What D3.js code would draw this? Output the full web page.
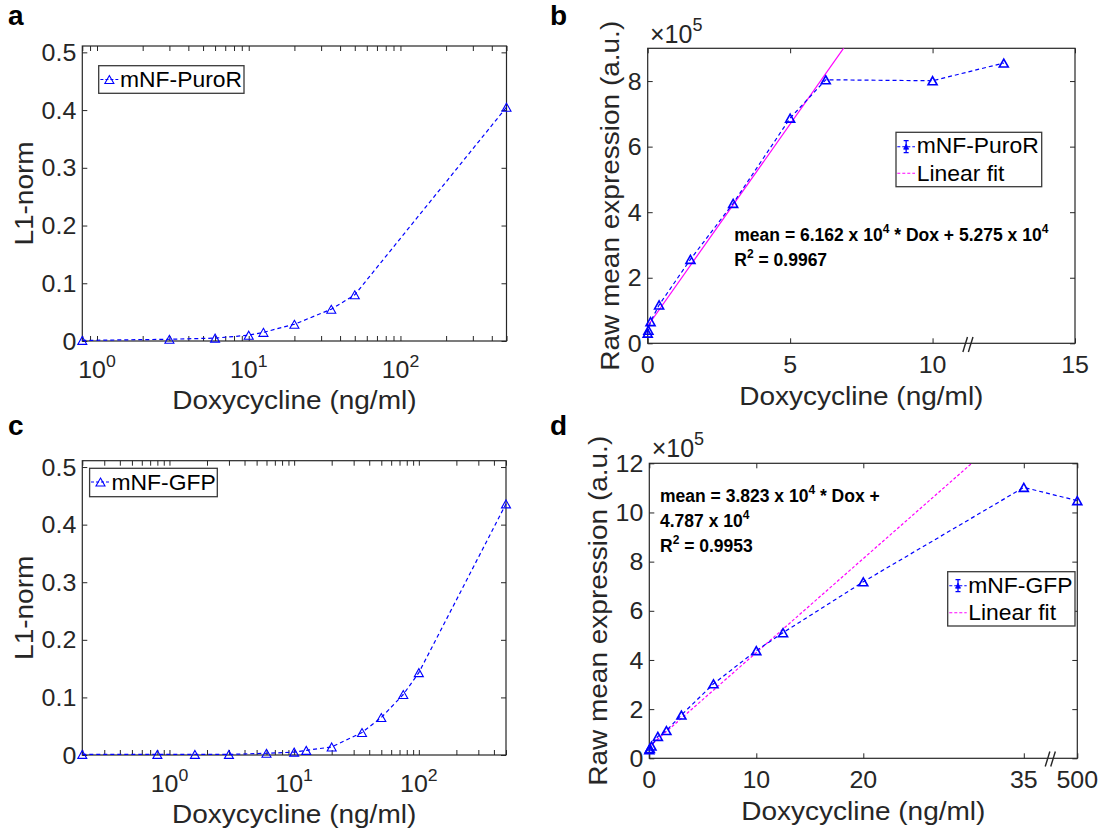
<!DOCTYPE html>
<html>
<head>
<meta charset="utf-8">
<script src="https://cdn.jsdelivr.net/npm/d3@7"></script>
<style>
  html, body { margin: 0; padding: 0; background: #fff; }
  svg { display: block; }
  text { font-family: "Liberation Sans", Arial, Helvetica, sans-serif; }
</style>
</head>
<body>
<svg id="fig" width="1102" height="836"></svg>
<script>
// ---------- data ----------
// a: mNF-PuroR, L1-norm against doxycycline (ng/ml)
const puroL1Dose = [0.8, 3, 6, 10, 12.5, 20, 35, 50, 500];
const puroL1 = [0.001, 0.003, 0.005, 0.010, 0.015, 0.029, 0.055, 0.080, 0.405];

// c: mNF-GFP, L1-norm against doxycycline (ng/ml)
const gfpL1Dose = [0.2, 0.8, 1.6, 3, 6, 10, 12.5, 20, 35, 50, 75, 100, 500];
const gfpL1 = [0.001, 0.001, 0.001, 0.001, 0.003, 0.005, 0.008, 0.014, 0.039, 0.065, 0.105, 0.143, 0.436];

// b: mNF-PuroR raw mean expression (a.u.)
const puroMeanDose = [0, 0.05, 0.2, 0.8, 3, 6, 10, 12.5, 20, 500];
const puroMean = [0.31e5, 0.40e5, 0.66e5, 1.17e5, 2.56e5, 4.27e5, 6.87e5, 8.04e5, 8.01e5, 8.55e5];
const puroFitSlope = 6.162e4;
const puroFitIntercept = 5.275e4;
const puroFitR2 = 0.9967;

// d: mNF-GFP raw mean expression (a.u.)
const gfpMeanDose = [0, 0.05, 0.2, 0.8, 1.6, 3, 6, 10, 12.5, 20, 35, 500];
const gfpMean = [0.35e5, 0.40e5, 0.50e5, 0.89e5, 1.13e5, 1.76e5, 3.03e5, 4.38e5, 5.11e5, 7.18e5, 11.02e5, 10.48e5];
const gfpFitSlope = 3.823e4;
const gfpFitIntercept = 4.787e4;
const gfpFitR2 = 0.9953;

// tick values and labels
const l1Ticks = [0, 0.1, 0.2, 0.3, 0.4, 0.5];
const logMajorTicks = [1, 10, 100];
const puroMeanXTicks = [0, 5, 10, 15];
const puroMeanXLabels = ["0", "5", "10", "15"];
const puroMeanYTicks = [0, 2e5, 4e5, 6e5, 8e5];
const gfpMeanXTicks = [0, 10, 20, 35, 40];
const gfpMeanXLabels = ["0", "10", "20", "35", "500"];
const gfpMeanYTicks = [0, 2e5, 4e5, 6e5, 8e5, 10e5, 12e5];

// ---------- helpers ----------
const INK = "#262626";
const BLUE = "#0000ff";
const MAGENTA = "#ff00ff";
const TICK_FONT = 24;
const svg = d3.select("#fig");

function addText(parent, x, y, str, o = {}) {
  const t = parent.append("text")
    .attr("transform", `translate(${x},${y})${o.rotate ? " rotate(-90)" : ""} scale(${o.sx || 1},1)`)
    .attr("font-size", o.size || 22)
    .attr("text-anchor", o.anchor || "start")
    .attr("fill", o.fill || INK);
  if (o.weight) t.attr("font-weight", o.weight);
  if (str != null) t.text(str);
  return t;
}

// box + inward ticks on all four sides
function drawFrame(g, x, y, xTickValues, yTickValues) {
  const [xl, xr] = x.range();
  const [yb, yt] = y.range();
  const tick = 5;
  const styleAxis = sel => {
    sel.select(".domain").remove();
    sel.selectAll(".tick line").attr("stroke", INK).attr("stroke-width", 1);
    sel.selectAll(".tick text").remove();
  };
  g.append("g").attr("transform", `translate(0,${yb})`)
    .call(d3.axisBottom(x).tickValues(xTickValues).tickSizeInner(-tick).tickSizeOuter(0)).call(styleAxis);
  g.append("g").attr("transform", `translate(0,${yt})`)
    .call(d3.axisTop(x).tickValues(xTickValues).tickSizeInner(-tick).tickSizeOuter(0)).call(styleAxis);
  g.append("g").attr("transform", `translate(${xl},0)`)
    .call(d3.axisLeft(y).tickValues(yTickValues).tickSizeInner(-tick).tickSizeOuter(0)).call(styleAxis);
  g.append("g").attr("transform", `translate(${xr},0)`)
    .call(d3.axisRight(y).tickValues(yTickValues).tickSizeInner(-tick).tickSizeOuter(0)).call(styleAxis);
  g.append("rect")
    .attr("x", xl).attr("y", yt).attr("width", xr - xl).attr("height", yb - yt)
    .attr("fill", "none").attr("stroke", INK).attr("stroke-width", 1.2);
}

function yTickLabels(g, x, y, values, fmt) {
  const xl = x.range()[0];
  values.forEach(v => addText(g, xl - 6, y(v) + 0.36 * TICK_FONT, fmt(v),
    { anchor: "end", size: TICK_FONT, sx: 1.04 }));
}

function linearXTickLabels(g, x, y, values, labels) {
  const yb = y.range()[0];
  values.forEach((v, i) => addText(g, x(v), yb + 30, labels[i],
    { anchor: "middle", size: TICK_FONT, sx: 1.04 }));
}

function logXTickLabels(g, x, y, values) {
  const yb = y.range()[0];
  values.forEach(v => {
    const t = addText(g, x(v), yb + 37, null, { anchor: "middle", size: TICK_FONT, sx: 1.04 });
    t.append("tspan").text("10");
    t.append("tspan").attr("font-size", 17).attr("dy", -11).text(String(Math.round(Math.log10(v))));
  });
}

function triangle(w, h) {
  return `M0,${-h / 2}L${w / 2},${h / 2}L${-w / 2},${h / 2}Z`;
}

function drawSeries(g, x, y, xs, ys, pos, markerStroke) {
  const pts = xs.map((d, i) => [x(pos(d)), y(ys[i])]);
  g.append("path")
    .attr("d", d3.line()(pts))
    .attr("fill", "none").attr("stroke", BLUE).attr("stroke-width", 1.2)
    .attr("stroke-dasharray", "4,3");
  g.selectAll(null).data(pts).join("path")
    .attr("transform", d => `translate(${d[0]},${d[1]})`)
    .attr("d", triangle(9, 8))
    .attr("fill", "none").attr("stroke", BLUE).attr("stroke-width", markerStroke);
}

function legendBox(g, x0, y0, x1, y1) {
  g.append("rect").attr("x", x0).attr("y", y0).attr("width", x1 - x0).attr("height", y1 - y0)
    .attr("fill", "#fff").attr("stroke", "#3a3a3a").attr("stroke-width", 1.3);
}

function legendSeriesIcon(g, xa, xb, cy, withErrorBar) {
  g.append("line").attr("x1", xa).attr("x2", xb).attr("y1", cy).attr("y2", cy)
    .attr("stroke", BLUE).attr("stroke-width", 1.1).attr("stroke-dasharray", "3,2");
  const cx = (xa + xb) / 2;
  if (withErrorBar) {
    g.append("path")
      .attr("d", `M${cx},${cy - 6}V${cy + 6}M${cx - 2.5},${cy - 6}H${cx + 2.5}M${cx - 2.5},${cy + 6}H${cx + 2.5}`)
      .attr("stroke", BLUE).attr("stroke-width", 1.3).attr("fill", "none");
    g.append("path").attr("transform", `translate(${cx},${cy})`).attr("d", triangle(5, 5))
      .attr("fill", BLUE).attr("stroke", BLUE).attr("stroke-width", 0.8);
  } else {
    g.append("path").attr("transform", `translate(${cx},${cy})`).attr("d", triangle(9, 8))
      .attr("fill", "none").attr("stroke", BLUE).attr("stroke-width", 1.1);
  }
}

function legendFitIcon(g, xa, xb, cy) {
  g.append("line").attr("x1", xa).attr("x2", xb).attr("y1", cy).attr("y2", cy)
    .attr("stroke", MAGENTA).attr("stroke-width", 1.1).attr("stroke-dasharray", "3,2");
}

function axisBreak(g, cx, cy) {
  [-3, 2.5].forEach(off => {
    g.append("line")
      .attr("x1", cx + off - 2.3).attr("y1", cy + 7.5)
      .attr("x2", cx + off + 2.3).attr("y2", cy - 7.5)
      .attr("stroke", INK).attr("stroke-width", 1.4);
  });
}

function exponentLabel(g, x0, baseline) {
  const t = addText(g, x0, baseline, null, { size: 25, sx: 1.0 });
  t.append("tspan").text("\u00d710");
  t.append("tspan").attr("font-size", 18).attr("dy", -12).text("5");
}

function fitLine(g, x, y, slope, intercept, doseOfPos, clipId, dashed) {
  const [xl, xr] = x.range();
  const [yb, yt] = y.range();
  g.append("clipPath").attr("id", clipId).append("rect")
    .attr("x", xl).attr("y", yt).attr("width", xr - xl).attr("height", yb - yt);
  const p0 = x.domain()[0], p1 = x.domain()[1];
  const line = g.append("path")
    .attr("d", d3.line()([p0, p1].map(p => [x(p), y(slope * doseOfPos(p) + intercept)])))
    .attr("clip-path", `url(#${clipId})`)
    .attr("fill", "none").attr("stroke", MAGENTA).attr("stroke-width", 1.2);
  if (dashed) line.attr("stroke-dasharray", "3,2");
}

// bold annotation line; superscripts are given as { sup: "..." }
function fitTextLine(g, x, y, parts) {
  const t = addText(g, x, y, null, { size: 17.5, weight: "bold", fill: "#000" });
  let carry = 0;
  parts.forEach(p => {
    if (typeof p === "string") {
      const s = t.append("tspan").attr("font-size", 17.5).text(p);
      if (carry) s.attr("dy", carry);
      carry = 0;
    } else {
      t.append("tspan").attr("font-size", 12).attr("dy", -8 - carry).text(p.sup);
      carry = 8;
    }
  });
}

const fmt3 = d3.format(".3f");
const l1Fmt = v => (v === 0 ? "0" : d3.format(".1f")(v));
const e5Fmt = v => String(Math.round(v / 1e5));

// ---------- panel a ----------
{
  const g = svg.append("g");
  const x = d3.scaleLog().domain([0.8, 500]).range([82.3, 506.5]);
  const y = d3.scaleLinear().domain([0, 0.511]).range([341, 46]);
  drawFrame(g, x, y, x.ticks(), l1Ticks);
  yTickLabels(g, x, y, l1Ticks, l1Fmt);
  logXTickLabels(g, x, y, logMajorTicks);
  drawSeries(g, x, y, puroL1Dose, puroL1, d => d, 1.1);
  legendBox(g, 98.7, 65.7, 244, 93.3);
  legendSeriesIcon(g, 100.4, 118.3, 79.5, false);
  addText(g, 120, 87.3, "mNF-PuroR", { size: 22, sx: 1.04, fill: "#000" });
  addText(g, (82.3 + 506.5) / 2, 409, "Doxycycline (ng/ml)", { anchor: "middle", size: 25, sx: 1.12 });
  addText(g, 33, 193.5, "L1-norm", { anchor: "middle", size: 25, sx: 1.12, rotate: true });
  addText(g, 8, 25, "a", { size: 28, weight: "bold", fill: "#000" });
}

// ---------- panel c ----------
{
  const g = svg.append("g");
  const x = d3.scaleLog().domain([0.2, 500]).range([82.3, 506]);
  const y = d3.scaleLinear().domain([0, 0.511]).range([755, 460.7]);
  drawFrame(g, x, y, x.ticks(), l1Ticks);
  yTickLabels(g, x, y, l1Ticks, l1Fmt);
  logXTickLabels(g, x, y, logMajorTicks);
  drawSeries(g, x, y, gfpL1Dose, gfpL1, d => d, 1.1);
  legendBox(g, 89.6, 468.3, 217.3, 496.7);
  legendSeriesIcon(g, 91, 110, 482, false);
  addText(g, 111.5, 490, "mNF-GFP", { size: 22, sx: 1.04, fill: "#000" });
  addText(g, (82.3 + 506) / 2, 823, "Doxycycline (ng/ml)", { anchor: "middle", size: 25, sx: 1.12 });
  addText(g, 33, 607.8, "L1-norm", { anchor: "middle", size: 25, sx: 1.12, rotate: true });
  addText(g, 8, 435, "c", { size: 28, weight: "bold", fill: "#000" });
}

// ---------- panel b ----------
{
  const g = svg.append("g");
  const x = d3.scaleLinear().domain([0, 15]).range([647.7, 1075]);
  const y = d3.scaleLinear().domain([0, 9e5]).range([343.3, 48.3]);
  // this panel is plotted against half the dose; the 500 ng/ml point sits past the axis break
  const pos = d => (d === 500 ? 12.5 : d / 2);
  const doseOfPos = p => 2 * p;
  drawFrame(g, x, y, puroMeanXTicks, puroMeanYTicks);
  yTickLabels(g, x, y, puroMeanYTicks, e5Fmt);
  linearXTickLabels(g, x, y, puroMeanXTicks, puroMeanXLabels);
  fitLine(g, x, y, puroFitSlope, puroFitIntercept, doseOfPos, "clipB", false);
  drawSeries(g, x, y, puroMeanDose, puroMean, pos, 1.6);
  axisBreak(g, x(11.25), 344.5);
  exponentLabel(g, 650, 43);
  legendBox(g, 896, 132.3, 1041.7, 186.7);
  legendSeriesIcon(g, 897.3, 915, 146.7, true);
  legendFitIcon(g, 897.3, 915, 173.3);
  addText(g, 916.7, 153.3, "mNF-PuroR", { size: 22, sx: 1.04, fill: "#000" });
  addText(g, 916.7, 180.7, "Linear fit", { size: 22, sx: 1.04, fill: "#000" });
  fitTextLine(g, 734.3, 240.7, [`mean = ${fmt3(puroFitSlope / 1e4)} x 10`, { sup: "4" },
    ` * Dox + ${fmt3(puroFitIntercept / 1e4)} x 10`, { sup: "4" }]);
  fitTextLine(g, 734.3, 265.7, ["R", { sup: "2" }, ` = ${puroFitR2}`]);
  addText(g, (647.7 + 1075) / 2, 404.5, "Doxycycline (ng/ml)", { anchor: "middle", size: 25, sx: 1.12 });
  addText(g, 618.8, 195.8, "Raw mean expression (a.u.)", { anchor: "middle", size: 25, sx: 1.12, rotate: true });
  addText(g, 550, 25, "b", { size: 28, weight: "bold", fill: "#000" });
}

// ---------- panel d ----------
{
  const g = svg.append("g");
  const x = d3.scaleLinear().domain([0, 40]).range([649.3, 1077.3]);
  const y = d3.scaleLinear().domain([0, 12e5]).range([758.3, 463.3]);
  // the 500 ng/ml point sits past the axis break
  const pos = d => (d === 500 ? 40 : d);
  drawFrame(g, x, y, gfpMeanXTicks, gfpMeanYTicks);
  yTickLabels(g, x, y, gfpMeanYTicks, e5Fmt);
  linearXTickLabels(g, x, y, gfpMeanXTicks, gfpMeanXLabels);
  fitLine(g, x, y, gfpFitSlope, gfpFitIntercept, p => p, "clipD", true);
  drawSeries(g, x, y, gfpMeanDose, gfpMean, pos, 1.6);
  axisBreak(g, x(37.5), 759);
  exponentLabel(g, 651.7, 456.7);
  legendBox(g, 947.7, 571.7, 1075, 626);
  legendSeriesIcon(g, 949.3, 966.7, 585.7, true);
  legendFitIcon(g, 949.3, 966.7, 612.7);
  addText(g, 968.3, 593.3, "mNF-GFP", { size: 22, sx: 1.04, fill: "#000" });
  addText(g, 968.3, 620, "Linear fit", { size: 22, sx: 1.04, fill: "#000" });
  fitTextLine(g, 660, 501.7, [`mean = ${fmt3(gfpFitSlope / 1e4)} x 10`, { sup: "4" }, " * Dox +"]);
  fitTextLine(g, 660, 526.7, [`${fmt3(gfpFitIntercept / 1e4)} x 10`, { sup: "4" }]);
  fitTextLine(g, 660, 551.7, ["R", { sup: "2" }, ` = ${gfpFitR2}`]);
  addText(g, (649.3 + 1077.3) / 2, 820, "Doxycycline (ng/ml)", { anchor: "middle", size: 25, sx: 1.12 });
  addText(g, 606.7, 610.8, "Raw mean expression (a.u.)", { anchor: "middle", size: 25, sx: 1.12, rotate: true });
  addText(g, 550, 435, "d", { size: 28, weight: "bold", fill: "#000" });
}
</script>
</body>
</html>
